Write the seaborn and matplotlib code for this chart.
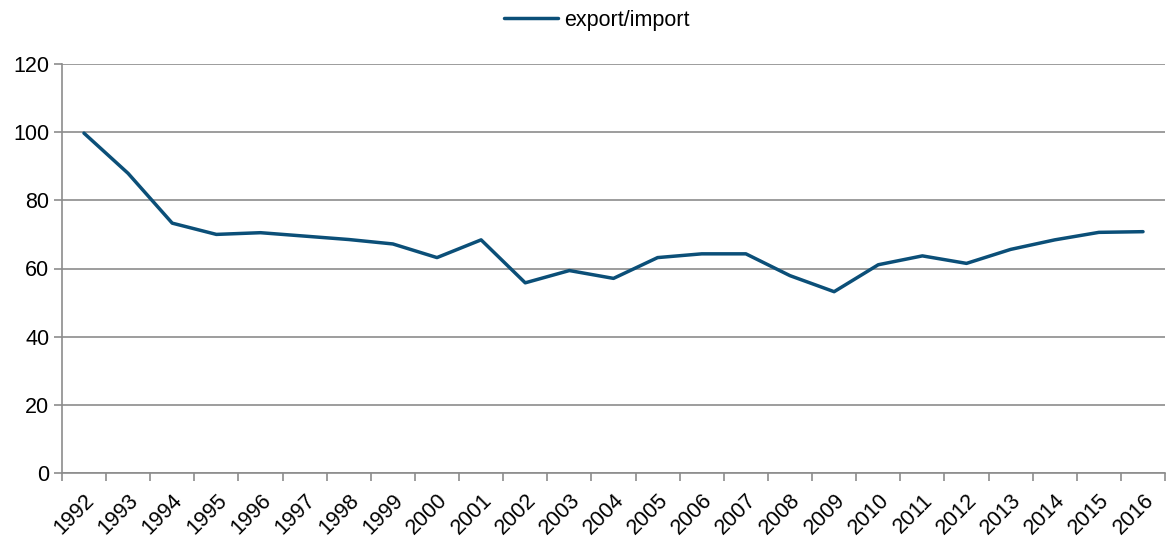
import numpy as np
import pandas as pd
import matplotlib
matplotlib.use("Agg")
import matplotlib.pyplot as plt
import seaborn as sns

years = list(range(1992, 2017))
export_import = [99.7, 87.9, 73.3, 70.0, 70.5, 69.5, 68.5, 67.2, 63.2, 68.4,
                 55.8, 59.4, 57.1, 63.2, 64.3, 64.3, 57.9, 53.2, 61.1, 63.7,
                 61.5, 65.6, 68.4, 70.6, 70.8]
y_ticks = [0, 20, 40, 60, 80, 100, 120]

sns.set_style("white")
plt.rcParams['font.family'] = ['Liberation Sans', 'DejaVu Sans']

df = pd.DataFrame({'year': years, 'value': export_import})

fig = plt.figure(figsize=(11.68, 5.37), dpi=100)
ax = fig.add_axes([0.053, 0.119, 0.9445, 0.762])

sns.lineplot(data=df, x='year', y='value', ax=ax, color='#0B4F78',
             linewidth=2.5, label='export/import')

grid_c = '#8c8c8c'
fs = 15.5
ax.set_ylim(0, 120)
ax.set_yticks(y_ticks)
ax.set_xlim(years[0] - 0.5, years[-1] + 0.5)
ax.set_xticks(years)
ax.set_xticklabels([str(y) for y in years], rotation=45, ha='right',
                   rotation_mode='anchor')
ax.set_xticks(np.arange(years[0] - 0.5, years[-1] + 1), minor=True)
ax.tick_params(axis='x', which='major', bottom=True, length=0,
               labelsize=fs, labelcolor='black', pad=12)
ax.tick_params(axis='x', which='minor', bottom=True, length=6, color=grid_c,
               width=1.2, direction='out')
ax.tick_params(axis='y', which='major', left=True, length=6, color=grid_c,
               width=1.2, labelsize=fs, labelcolor='black', pad=3,
               direction='out')
ax.yaxis.grid(True, color=grid_c, linewidth=1.2)
ax.set_axisbelow(True)
for s in ['top', 'right']:
    ax.spines[s].set_visible(False)
for s in ['left', 'bottom']:
    ax.spines[s].set_color(grid_c)
    ax.spines[s].set_linewidth(1.2)
ax.set_xlabel('')
ax.set_ylabel('')

leg = ax.legend(loc='upper center', bbox_to_anchor=(0.485, 1.18),
                frameon=False, fontsize=fs, handlelength=2.5,
                handletextpad=0.3)
for t in leg.get_texts():
    t.set_color('black')

fig.savefig('out.png', dpi=100)
